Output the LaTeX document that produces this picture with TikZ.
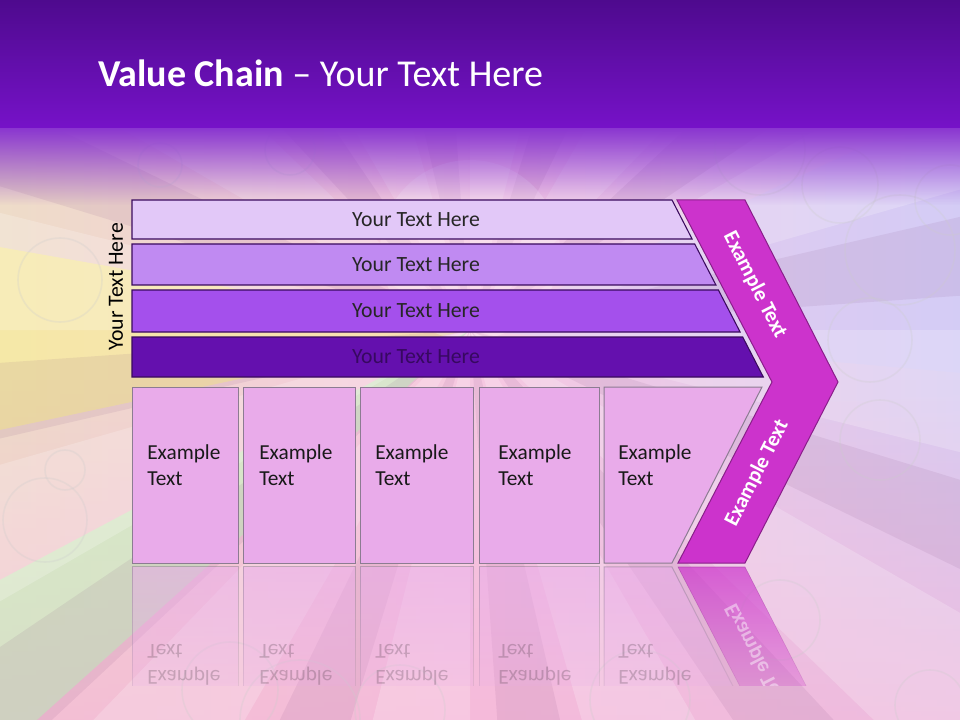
\documentclass[tikz,border=0pt]{standalone}
\usepackage{fontspec}
\setmainfont{Carlito}
\usetikzlibrary{fadings}
\definecolor{hdrtop}{HTML}{4E0A8E}
\definecolor{hdrbot}{HTML}{7612C8}
\definecolor{barA}{HTML}{E2C8F8}
\definecolor{barB}{HTML}{C08AF2}
\definecolor{barC}{HTML}{A450EC}
\definecolor{barD}{HTML}{6410AE}
\definecolor{barline}{HTML}{3A0A5E}
\definecolor{boxfill}{HTML}{E9ABEA}
\definecolor{boxline}{HTML}{8C7C92}
\definecolor{chev}{HTML}{CC33CC}
\definecolor{chevline}{HTML}{8A1E8A}
\definecolor{bgL}{HTML}{EEDCC8}
\definecolor{bgM}{HTML}{F6C8E2}
\definecolor{bgR}{HTML}{D8CCF2}
\definecolor{floorpink}{HTML}{F5B6D8}
\tikzfading[name=fadedown, top color=transparent!0, bottom color=transparent!100]
\tikzfading[name=fadeup, top color=transparent!100, bottom color=transparent!0]
\tikzset{
  barshape/.style={draw=barline, line width=0.8pt},
  bartext/.style={font=\fontsize{16.3}{19}\selectfont, text=black!85},
  boxshape/.style={fill=boxfill, draw=boxline, line width=0.75pt},
  boxtext/.style={font=\fontsize{16}{19.5}\selectfont, align=left, anchor=west, text=black!90, inner sep=0pt},
  reflbox/.style={fill=boxfill, draw=boxline, line width=0.75pt, path fading=fadedown, fill opacity=0.55, draw opacity=0.5},
  refltext/.style={font=\fontsize{16}{19.5}\selectfont, align=left, anchor=west, text=black, inner sep=0pt, opacity=0.18},
  chevshape/.style={fill=chev, draw=chevline, line width=0.75pt},
  chevtext/.style={font=\bfseries\fontsize{16}{19}\selectfont, text=white},
  bubble/.style={draw=white!60!gray, line width=1.2pt, opacity=0.28},
  ray/.style={fill=white, opacity=0.2},
  darkray/.style={fill=violet!40!gray, opacity=0.1}
}
\begin{document}
\begin{tikzpicture}[x=0.75pt,y=-0.75pt]
\useasboundingbox (0,0) rectangle (960,720);
% background
\shade[left color=bgL, right color=bgR, middle color=bgM] (0,0) rectangle (960,720);
\fill[floorpink, opacity=0.75, path fading=fadeup] (0,380) rectangle (960,720);
\fill[yellow!50!white, opacity=0.45] (470,330) -- +(168:1100) -- +(190:1100) -- cycle;
\fill[green!25!white, opacity=0.5] (470,330) -- +(138:1100) -- +(152:1100) -- cycle;
\fill[blue!20!white, opacity=0.3] (470,330) -- +(-25:1100) -- +(5:1100) -- cycle;
\foreach \a in {0,30,...,330} {
  \fill[ray] (470,330) -- +(\a:1100) -- +(\a+14:1100) -- cycle;
}
\foreach \a in {17,47,...,347} {
  \fill[darkray] (470,330) -- +(\a:1100) -- +(\a+9:1100) -- cycle;
}
\fill[white, opacity=0.25] (470,250) circle (90);
% bubbles
\draw[bubble] (900,250) circle (55);
\draw[bubble] (870,340) circle (42);
\draw[bubble] (880,440) circle (40);
\draw[bubble] (950,200) circle (35);
\draw[bubble] (60,280) circle (42);
\draw[bubble] (45,520) circle (42);
\draw[bubble] (65,470) circle (20);
\draw[bubble] (230,690) circle (48);
\draw[bubble] (300,720) circle (60);
\draw[bubble] (400,710) circle (45);
\draw[bubble] (640,700) circle (50);
\draw[bubble] (930,705) circle (35);
\draw[bubble] (780,620) circle (40);
\draw[bubble] (160,165) circle (22);
\draw[bubble] (290,150) circle (25);
\draw[bubble] (760,150) circle (45);
\draw[bubble] (840,185) circle (38);
% header
\fill[hdrbot!85!white, path fading=fadedown] (0,128) rectangle (960,205);
\shade[top color=hdrtop, bottom color=hdrbot] (0,0) rectangle (960,128);
\node[anchor=west, text=white, font=\fontsize{28.5}{32}\selectfont, inner sep=0pt] (title) at (98,73) {\textbf{Value Chain} – Your Text Here};
% reflection
\begin{scope}
  \clip (0,565) rectangle (960,685);
  \path[reflbox] (132,567) rectangle (238,743);
  \path[reflbox] (243,567) rectangle (355,743);
  \path[reflbox] (360,567) rectangle (473,743);
  \path[reflbox] (479,567) rectangle (599,743);
  \path[reflbox] (604,567) -- (672,567) -- (762,743) -- (604,743) -- cycle;
  \path[fill=chev, draw=chevline, path fading=fadedown, fill opacity=0.7, draw opacity=0.4] (678,567) -- (745,567) -- (838,748) -- (772,748) -- cycle;
  \begin{scope}[shift={(0,1130)}, yscale=-1, transform shape]
    \node[refltext] (ra) at (147,465) {Example\\Text};
    \node[refltext] (rb) at (259,465) {Example\\Text};
    \node[refltext] (rc) at (375,465) {Example\\Text};
    \node[refltext] (rd) at (498,465) {Example\\Text};
    \node[refltext] (re) at (618,465) {Example\\Text};
    \node[chevtext, rotate=63, opacity=0.45] (rchl) at (757,473) {Example Text};
  \end{scope}
\end{scope}
% bars
\path[barshape, fill=barA] (132,200) -- (672,200) -- (692.1,239) -- (132,239) -- cycle;
\path[barshape, fill=barB] (132,244) -- (694.7,244) -- (715.9,285) -- (132,285) -- cycle;
\path[barshape, fill=barC] (132,290) -- (718.4,290) -- (740.1,332) -- (132,332) -- cycle;
\path[barshape, fill=barD] (132,337) -- (742.7,337) -- (763.3,377) -- (132,377) -- cycle;
\node[bartext] (b1) at (416,219.5) {Your Text Here};
\node[bartext] (b2) at (416,265) {Your Text Here};
\node[bartext] (b3) at (416,311) {Your Text Here};
\node[bartext, text=barD!55!black] (b4) at (416,357) {Your Text Here};
\node[bartext, text=black, rotate=90] (side) at (116,287) {Your Text Here};
% lower boxes
\path[boxshape] (132,387) rectangle (238,563);
\path[boxshape] (243,387) rectangle (355,563);
\path[boxshape] (360,387) rectangle (473,563);
\path[boxshape] (479,387) rectangle (599,563);
\path[boxshape] (604,387) -- (762,387) -- (672,563) -- (604,563) -- cycle;
\node[boxtext] (exa) at (147,465) {Example\\Text};
\node[boxtext] (exb) at (259,465) {Example\\Text};
\node[boxtext] (exc) at (375,465) {Example\\Text};
\node[boxtext] (exd) at (498,465) {Example\\Text};
\node[boxtext] (exe) at (618,465) {Example\\Text};
% chevron
\path[chevshape] (677,200) -- (745,200) -- (838,382) -- (745,563) -- (678,563) -- (772,382) -- cycle;
\node[chevtext, rotate=-63] (chu) at (755,285) {Example Text};
\node[chevtext, rotate=63] (chl) at (757,473) {Example Text};
\end{tikzpicture}
\end{document}
